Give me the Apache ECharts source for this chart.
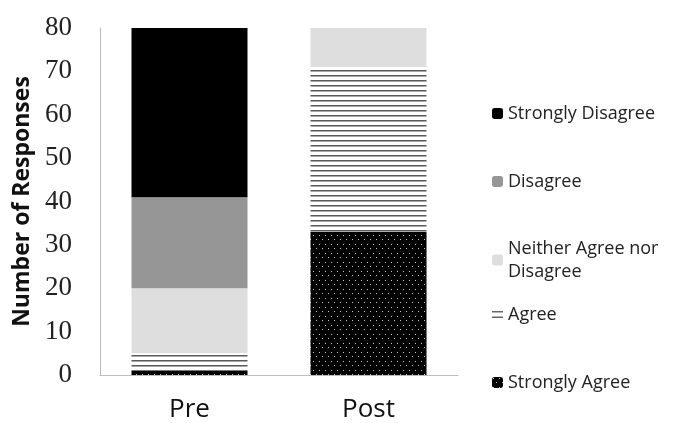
<!DOCTYPE html>
<html>
<head>
<meta charset="utf-8">
<script src="https://cdn.jsdelivr.net/npm/echarts@6/dist/echarts.min.js"></script>
<style>html,body{margin:0;padding:0;background:#fff}#c{width:673px;height:423px}</style>
</head>
<body>
<div id="c"></div>
<script>
const categories = ['Pre', 'Post'];
const stronglyAgree = [1, 33];
const agree = [4, 38];
const neither = [15, 9];
const disagree = [21, 0];
const stronglyDisagree = [39, 0];
const yTicks = [0, 10, 20, 30, 40, 50, 60, 70, 80];

function makeTile(w, h, draw) {
  const c = document.createElement('canvas');
  c.width = w; c.height = h;
  draw(c.getContext('2d'));
  return c;
}
const lineTile = makeTile(4, 5, ctx => {
  ctx.fillStyle = '#fff'; ctx.fillRect(0, 0, 4, 5);
  ctx.fillStyle = '#5a5a5a'; ctx.fillRect(0, 0, 4, 1);
  ctx.fillStyle = '#a8a8a8'; ctx.fillRect(0, 1, 4, 1);
});
const dotTile = makeTile(6, 9, ctx => {
  ctx.fillStyle = '#000'; ctx.fillRect(0, 0, 6, 9);
  ctx.fillStyle = '#c8c8c8';
  ctx.fillRect(1, 1, 1, 1);
  ctx.fillRect(4, 5, 1, 1);
});
const linePattern = { image: lineTile, repeat: 'repeat' };
const dotPattern = { image: dotTile, repeat: 'repeat' };

const chart = echarts.init(document.getElementById('c'), null, { renderer: 'canvas' });
const legendText = { fontFamily: 'Open Sans', fontSize: 18, color: '#222', lineHeight: 23 };
function leg(name, top, extra) {
  return Object.assign({
    left: 487, top: top, orient: 'vertical', itemWidth: 11, itemHeight: 11,
    itemGap: 0, selectedMode: false, textStyle: legendText,
    formatter: n => n === 'Neither Agree nor Disagree' ? 'Neither Agree nor\nDisagree' : n,
    data: [name]
  }, extra || {});
}
const barW = 116;
function s(name, data, color) {
  return { name: name, type: 'bar', stack: 'all', data: data, barWidth: barW,
    itemStyle: { color: color }, emphasis: { disabled: true }, animation: false };
}
chart.setOption({
  animation: false,
  grid: { left: 100, right: 215, top: 28, bottom: 47 },
  legend: [
    leg('Strongly Disagree', 97),
    leg('Disagree', 165),
    leg('Neither Agree nor Disagree', 232),
    { left: 487, top: 298, itemWidth: 11, itemHeight: 11, selectedMode: false, textStyle: legendText,
      data: [{ name: 'Agree', icon: 'path://M0,0H10V1.3H0Z M0,5H10V6.3H0Z', itemStyle: { color: '#666' } }] },
    leg('Strongly Agree', 366)
  ],
  xAxis: {
    type: 'category', data: categories,
    axisLine: { lineStyle: { color: '#bdbdbd', width: 1 } },
    axisTick: { show: false },
    axisLabel: { fontFamily: 'Open Sans', fontSize: 26, color: '#111', margin: 22 }
  },
  yAxis: {
    type: 'value', min: 0, max: 80, interval: 10,
    name: 'Number of Responses', nameLocation: 'middle', nameGap: 62,
    nameTextStyle: { fontFamily: 'Open Sans', fontWeight: 'bold', fontSize: 23, color: '#111' },
    axisLine: { show: true, lineStyle: { color: '#bdbdbd', width: 1 } },
    axisTick: { show: false },
    splitLine: { show: false },
    axisLabel: { fontFamily: 'Liberation Serif', fontSize: 27, color: '#222', margin: 28,
      formatter: v => yTicks.includes(v) ? String(v) : '' }
  },
  series: [
    s('Strongly Agree', stronglyAgree, dotPattern),
    s('Agree', agree, linePattern),
    s('Neither Agree nor Disagree', neither, '#dedede'),
    s('Disagree', disagree, '#969696'),
    s('Strongly Disagree', stronglyDisagree, '#000')
  ]
});
</script>
</body>
</html>
